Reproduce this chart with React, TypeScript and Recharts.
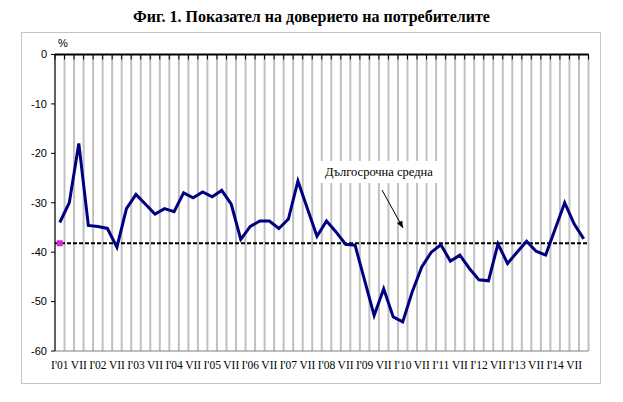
import React from 'react';
import {
  LineChart,
  Line,
  XAxis,
  YAxis,
  CartesianGrid,
  ReferenceLine,
  ReferenceDot,
} from 'recharts';

// quarterly survey rounds, 2001 I .. 2014 X
const years = [2001, 2002, 2003, 2004, 2005, 2006, 2007, 2008, 2009, 2010, 2011, 2012, 2013, 2014];
const months = ['I', 'IV', 'VII', 'X'];

const confidence = [
  -34, -30, -18, -34.6, -34.8, -35.2, -39, -31.2,
  -28.3, -30.3, -32.3, -31.2, -31.8, -28, -29, -27.8,
  -28.8, -27.5, -30.3, -37.4, -34.8, -33.7, -33.7, -35.2,
  -33.3, -25.6, -31.2, -36.8, -33.7, -35.9, -38.4, -38.6,
  -45.7, -52.8, -47.4, -53.1, -54.1, -48, -43, -40,
  -38.5, -41.8, -40.6, -43.3, -45.6, -45.8, -38.3, -42.3,
  -40, -37.8, -39.8, -40.6, -35.3, -30, -34.3, -37.3,
];

const longTermAverage = -38.2;

const tickLabels = [
  "I'01", 'VII', "I'02", 'VII', "I'03", 'VII', "I'04", 'VII', "I'05", 'VII',
  "I'06", 'VII', "I'07", 'VII', "I'08", 'VII', "I'09", 'VII', "I'10", 'VII',
  "I'11", 'VII', "I'12", 'VII', "I'13", 'VII', "I'14", 'VII',
];

const yTicks = [0, -10, -20, -30, -40, -50, -60];

const quarters = years.flatMap((y) => months.map((m) => `${m} ${y}`));
const data = quarters.map((q, i) => ({ idx: i, quarter: q, value: confidence[i] }));

const n = quarters.length;
const boundaryTicks = Array.from({ length: n + 1 }, (_, i) => i - 0.5);
const labelTicks = tickLabels.map((_, i) => i * 2);

const serif = '"Liberation Serif", "Times New Roman", serif';
const sans = '"Liberation Sans", Arial, sans-serif';

const PinkSquare = (p: any) => (
  <rect x={p.cx - 3} y={p.cy - 3} width={6} height={6} fill="#d42ad0" />
);

const NoLabel = () => <g />;

export default function App() {
  return (
    <div style={{ position: 'fixed', left: 0, top: 0, width: 623, height: 402, background: '#fff' }}>
      <div
        style={{
          position: 'absolute',
          top: 7,
          left: 0,
          width: 623,
          textAlign: 'center',
          fontFamily: serif,
          fontWeight: 'bold',
          fontSize: 16,
          lineHeight: '20px',
        }}
      >
        Фиг. 1. Показател на доверието на потребителите
      </div>
      <div
        style={{
          position: 'absolute',
          left: 21,
          top: 32,
          width: 578,
          height: 350,
          border: '1px solid #c4c4c4',
        }}
      />
      <div
        style={{ position: 'absolute', left: 58, top: 37, fontFamily: sans, fontSize: 11 }}
      >
        %
      </div>
      <div style={{ position: 'absolute', left: 0, top: 0 }}>
        <LineChart
          width={623}
          height={402}
          data={data}
          margin={{ top: 53.5, right: 34.5, bottom: 31, left: 15 }}
        >
          <CartesianGrid horizontal={false} stroke="#c0c0c0" strokeWidth={2} xAxisId={0} />
          <XAxis
            xAxisId={0}
            dataKey="idx"
            type="number"
            domain={[-0.5, n - 0.5]}
            ticks={boundaryTicks}
            interval={0}
            orientation="top"
            height={1}
            tick={NoLabel}
            tickSize={-5}
            axisLine={{ stroke: '#000', strokeWidth: 2 }}
            tickLine={{ stroke: '#000' }}
          />
          <XAxis
            xAxisId="lab"
            dataKey="idx"
            type="number"
            domain={[-0.5, n - 0.5]}
            ticks={labelTicks}
            interval={0}
            height={20}
            axisLine={false}
            tickLine={false}
            tickMargin={4}
            tickFormatter={(v: number) => tickLabels[v / 2]}
            tick={{ fontFamily: serif, fontSize: 11.5, fill: '#000' }}
          />
          <YAxis
            domain={[-60, 0]}
            ticks={yTicks}
            width={40}
            interval={0}
            tickSize={4}
            tickMargin={4}
            axisLine={{ stroke: '#000' }}
            tickLine={{ stroke: '#000' }}
            tick={{ fontFamily: sans, fontSize: 11, fill: '#000' }}
          />
          <ReferenceLine y={-60} stroke="#808080" />
          <ReferenceLine
            y={longTermAverage}
            stroke="#000"
            strokeWidth={2}
            strokeDasharray="4 2"
          />
          <Line
            dataKey="value"
            stroke="#000080"
            strokeWidth={3}
            dot={false}
            isAnimationActive={false}
          />
          <ReferenceDot x={0} y={longTermAverage} r={3} shape={PinkSquare} />
        </LineChart>
      </div>
      <div
        style={{
          position: 'absolute',
          left: 318,
          top: 161,
          width: 122,
          height: 22,
          background: '#fff',
          fontFamily: serif,
          fontSize: 12.5,
          lineHeight: '22px',
          paddingLeft: 7,
          boxSizing: 'border-box',
        }}
      >
        Дългосрочна средна
      </div>
      <svg
        width={623}
        height={402}
        style={{ position: 'absolute', left: 0, top: 0, pointerEvents: 'none' }}
      >
        <defs>
          <marker id="arr" markerWidth="8" markerHeight="8" refX="7" refY="4" orient="auto">
            <path d="M0,1 L7,4 L0,7 Z" fill="#000" />
          </marker>
        </defs>
        <line x1={382} y1={190} x2={403} y2={228} stroke="#000" strokeWidth={1} markerEnd="url(#arr)" />
      </svg>
    </div>
  );
}
